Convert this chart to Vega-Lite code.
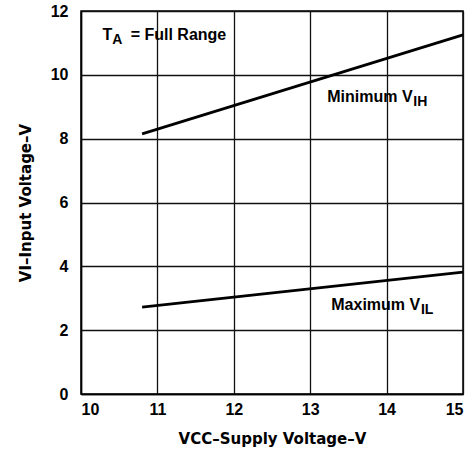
{
  "$schema": "https://vega.github.io/schema/vega-lite/v6.json",
  "width": 382,
  "height": 383,
  "autosize": {"type": "none"},
  "padding": {"left": 81, "top": 11, "right": 9, "bottom": 64},
  "background": "white",
  "config": {
    "view": {"stroke": "black", "strokeWidth": 1.5},
    "font": "Liberation Sans",
    "axis": {
      "labelFont": "Liberation Sans",
      "titleFont": "DejaVu Sans",
      "labelFontWeight": "bold",
      "titleFontWeight": "bold",
      "labelFontSize": 16,
      "titleFontSize": 15,
      "labelColor": "black",
      "titleColor": "black",
      "gridColor": "#111",
      "gridOpacity": 1,
      "gridWidth": 1.3,
      "domainColor": "black",
      "domainWidth": 1.5,
      "ticks": false
    }
  },
  "datasets": {
    "lines": [
      {"series": "VIH", "vcc": 10.8, "v": 8.15},
      {"series": "VIH", "vcc": 15, "v": 11.25},
      {"series": "VIL", "vcc": 10.8, "v": 2.72},
      {"series": "VIL", "vcc": 15, "v": 3.82}
    ],
    "mainText": [
      {"label": "T", "vcc": 10.41, "v": 11.25},
      {"label": "Minimum V", "vcc": 14.34, "v": 9.3},
      {"label": "Maximum V", "vcc": 14.44, "v": 2.8}
    ],
    "subText": [
      {"label": "A", "vcc": 10.41, "v": 11.25},
      {"label": "IH", "vcc": 14.35, "v": 9.3},
      {"label": "IL", "vcc": 14.45, "v": 2.8}
    ],
    "restText": [
      {"label": "= Full Range", "vcc": 10.65, "v": 11.25}
    ]
  },
  "layer": [
    {
      "data": {"name": "lines"},
      "mark": {"type": "line", "color": "black", "strokeWidth": 2.8},
      "encoding": {
        "x": {
          "field": "vcc", "type": "quantitative",
          "scale": {"domain": [10, 15], "nice": false, "zero": false},
          "axis": {"values": [10, 11, 12, 13, 14, 15], "format": "d", "title": "VCC–Supply Voltage–V", "labelPadding": 7, "titlePadding": 14}
        },
        "y": {
          "field": "v", "type": "quantitative",
          "scale": {"domain": [0, 12], "nice": false},
          "axis": {"values": [0, 2, 4, 6, 8, 10, 12], "format": "d", "title": "VI–Input Voltage–V", "labelPadding": 13, "titlePadding": 17}
        },
        "detail": {"field": "series"}
      }
    },
    {
      "data": {"name": "mainText"},
      "mark": {"type": "text", "align": "right", "baseline": "middle", "fontSize": 16, "fontWeight": "bold", "color": "black", "font": "Liberation Sans"},
      "encoding": {
        "x": {"field": "vcc", "type": "quantitative"},
        "y": {"field": "v", "type": "quantitative"},
        "text": {"field": "label"}
      }
    },
    {
      "data": {"name": "subText"},
      "mark": {"type": "text", "align": "left", "baseline": "middle", "fontSize": 14, "fontWeight": "bold", "color": "black", "dy": 5, "font": "Liberation Sans"},
      "encoding": {
        "x": {"field": "vcc", "type": "quantitative"},
        "y": {"field": "v", "type": "quantitative"},
        "text": {"field": "label"}
      }
    },
    {
      "data": {"name": "restText"},
      "mark": {"type": "text", "align": "left", "baseline": "middle", "fontSize": 16, "fontWeight": "bold", "color": "black", "font": "Liberation Sans"},
      "encoding": {
        "x": {"field": "vcc", "type": "quantitative"},
        "y": {"field": "v", "type": "quantitative"},
        "text": {"field": "label"}
      }
    }
  ]
}
